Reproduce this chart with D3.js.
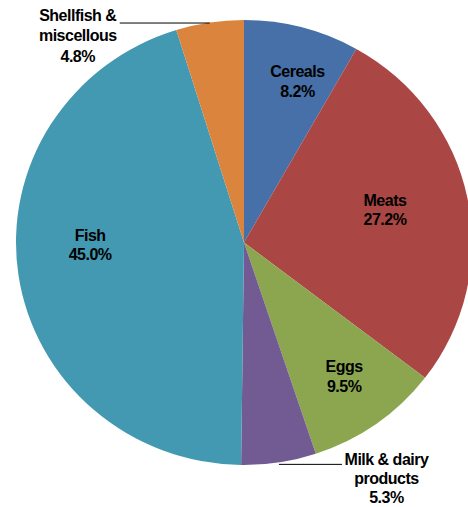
<!DOCTYPE html>
<html>
<head>
<meta charset="utf-8">
<script src="https://cdn.jsdelivr.net/npm/d3@7"></script>
<style>
  body { margin: 0; background: #fff; }
  svg { display: block; }
  .lbl { font-family: "Liberation Sans", Arial, sans-serif; font-weight: bold; font-size: 16px; letter-spacing: -0.5px; fill: #000; }
</style>
</head>
<body>
<svg width="468" height="507"></svg>
<script>
var categories = ["Cereals", "Meats", "Eggs", "Milk & dairy products", "Fish", "Shellfish & miscellous"];
var values = [8.2, 27.2, 9.5, 5.3, 45.0, 4.8];
var labelLines = [["Cereals"], ["Meats"], ["Eggs"], ["Milk & dairy", "products"], ["Fish"], ["Shellfish &", "miscellous"]];
var colors = ["#4670a7", "#aa4644", "#8ba64f", "#725a93", "#4299b1", "#db843d"];

var cx = 244, cy = 242.5, rx = 228, ry = 222.5;
var lineH = 19.5;

var svg = d3.select('svg');
var g = svg.append('g').attr('transform', 'translate(' + cx + ',' + cy + ')');

var pie = d3.pie().sort(null).value(function(d) { return d; });
var arcs = pie(values);

var arc = d3.arc().innerRadius(0).outerRadius(ry);

// pie is a little wider than tall in the original
g.append('g')
  .attr('transform', 'scale(' + (rx / ry) + ',1)')
  .selectAll('path')
  .data(arcs)
  .enter()
  .append('path')
  .attr('d', arc)
  .style('fill', function(d, i) { return colors[i]; });

function fmt(v) { return v.toFixed(1) + '%'; }

// point on the (stretched) rim at the slice middle
function rim(d) {
  var a = (d.startAngle + d.endAngle) / 2;
  return { x: rx * Math.sin(a), y: -ry * Math.cos(a) };
}

// inside labels: fraction of the radius + small nudges
var inside = [0, 1, 2, 4];
var labelR = [0.747, 0.631, 0.742, 0, 0.682, 0];
var nudge = [[10, 0], [0, -4], [2, 0], [0, 0], [0, -19], [0, 0]];

inside.forEach(function(i) {
  var d = arcs[i];
  var a = (d.startAngle + d.endAngle) / 2;
  var x = rx * labelR[i] * Math.sin(a) + nudge[i][0];
  var y = -ry * labelR[i] * Math.cos(a) + nudge[i][1];
  var lines = labelLines[i].concat([fmt(values[i])]);
  var t = g.append('text').attr('class', 'lbl').attr('text-anchor', 'middle');
  var y0 = y - (lines.length - 1) * lineH / 2 + 5;
  lines.forEach(function(s, k) {
    t.append('tspan').attr('x', x).attr('y', y0 + k * lineH).text(s);
  });
});

// outside labels with leader lines
// Shellfish: line goes left from the rim, text to the left of it
(function() {
  var i = 5, p = rim(arcs[i]);
  var lineEnd = p.x - 90;
  g.append('line')
    .attr('x1', p.x).attr('y1', p.y + 0.5)
    .attr('x2', lineEnd).attr('y2', p.y + 0.5)
    .style('stroke', '#000').style('stroke-width', 1);
  var lines = labelLines[i].concat([fmt(values[i])]);
  var t = g.append('text').attr('class', 'lbl').attr('text-anchor', 'middle');
  lines.forEach(function(s, k) {
    t.append('tspan').attr('x', lineEnd - 42).attr('y', p.y - 2 + k * 20.5).text(s);
  });
})();

// Milk: line goes right from the rim, text to the right
(function() {
  var i = 3, p = rim(arcs[i]);
  var lineEnd = p.x + 63;
  g.append('line')
    .attr('x1', p.x).attr('y1', p.y + 2)
    .attr('x2', lineEnd).attr('y2', p.y + 2)
    .style('stroke', '#000').style('stroke-width', 1);
  var lines = labelLines[i].concat([fmt(values[i])]);
  var t = g.append('text').attr('class', 'lbl').attr('text-anchor', 'middle');
  lines.forEach(function(s, k) {
    t.append('tspan').attr('x', lineEnd + 44.5).attr('y', p.y + 2.6 + k * 19).text(s);
  });
})();
</script>
</body>
</html>
